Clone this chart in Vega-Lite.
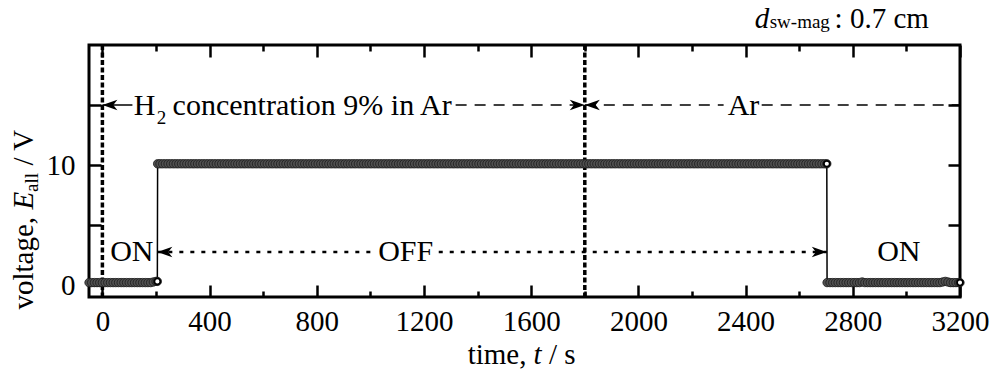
{
  "$schema": "https://vega.github.io/schema/vega-lite/v6.json",
  "autosize": {"type": "none"},
  "width": 871,
  "height": 252,
  "padding": {"left": 89, "top": 45, "right": 33, "bottom": 79},
  "background": "white",
  "view": {"stroke": "black", "strokeWidth": 3},
  "config": {
    "view": {"stroke": "black", "strokeWidth": 3},
    "axis": {"labelFont": "Liberation Serif", "labelFontSize": 29, "labelColor": "black", "domain": false, "grid": false, "tickColor": "black", "tickWidth": 2.5, "title": null, "labelOverlap": false, "labelFlush": false},
    "text": {"font": "Liberation Serif", "color": "black"}
  },
  "datasets": {
    "pts": [
      {"t":-50,"v":0.2},{"t":-40,"v":0.2},{"t":-30,"v":0.2},{"t":-20,"v":0.2},{"t":-10,"v":0.2},{"t":0,"v":0.2},{"t":10,"v":0.2},{"t":20,"v":0.2},{"t":30,"v":0.2},{"t":40,"v":0.2},{"t":50,"v":0.2},{"t":60,"v":0.2},{"t":70,"v":0.2},{"t":80,"v":0.2},{"t":90,"v":0.2},{"t":100,"v":0.2},{"t":110,"v":0.2},{"t":120,"v":0.2},{"t":130,"v":0.2},{"t":140,"v":0.2},{"t":150,"v":0.2},{"t":160,"v":0.2},{"t":170,"v":0.2},{"t":180,"v":0.2},{"t":190,"v":0.25},{"t":200,"v":0.3},{"t":205,"v":0.3},
      {"t":206,"v":10.1},{"t":215,"v":10.1},{"t":225,"v":10.1},{"t":235,"v":10.1},{"t":245,"v":10.1},{"t":255,"v":10.1},{"t":265,"v":10.1},{"t":275,"v":10.1},{"t":285,"v":10.1},{"t":295,"v":10.1},
      {"t":305,"v":10.1},{"t":315,"v":10.1},{"t":325,"v":10.1},{"t":335,"v":10.1},{"t":345,"v":10.1},{"t":355,"v":10.1},{"t":365,"v":10.1},{"t":375,"v":10.1},{"t":385,"v":10.1},{"t":395,"v":10.1},
      {"t":405,"v":10.1},{"t":415,"v":10.1},{"t":425,"v":10.1},{"t":435,"v":10.1},{"t":445,"v":10.1},{"t":455,"v":10.1},{"t":465,"v":10.1},{"t":475,"v":10.1},{"t":485,"v":10.1},{"t":495,"v":10.1},
      {"t":505,"v":10.1},{"t":515,"v":10.1},{"t":525,"v":10.1},{"t":535,"v":10.1},{"t":545,"v":10.1},{"t":555,"v":10.1},{"t":565,"v":10.1},{"t":575,"v":10.1},{"t":585,"v":10.1},{"t":595,"v":10.1},
      {"t":605,"v":10.1},{"t":615,"v":10.1},{"t":625,"v":10.1},{"t":635,"v":10.1},{"t":645,"v":10.1},{"t":655,"v":10.1},{"t":665,"v":10.1},{"t":675,"v":10.1},{"t":685,"v":10.1},{"t":695,"v":10.1},
      {"t":705,"v":10.1},{"t":715,"v":10.1},{"t":725,"v":10.1},{"t":735,"v":10.1},{"t":745,"v":10.1},{"t":755,"v":10.1},{"t":765,"v":10.1},{"t":775,"v":10.1},{"t":785,"v":10.1},{"t":795,"v":10.1},
      {"t":805,"v":10.1},{"t":815,"v":10.1},{"t":825,"v":10.1},{"t":835,"v":10.1},{"t":845,"v":10.1},{"t":855,"v":10.1},{"t":865,"v":10.1},{"t":875,"v":10.1},{"t":885,"v":10.1},{"t":895,"v":10.1},
      {"t":905,"v":10.1},{"t":915,"v":10.1},{"t":925,"v":10.1},{"t":935,"v":10.1},{"t":945,"v":10.1},{"t":955,"v":10.1},{"t":965,"v":10.1},{"t":975,"v":10.1},{"t":985,"v":10.1},{"t":995,"v":10.1},
      {"t":1005,"v":10.1},{"t":1015,"v":10.1},{"t":1025,"v":10.1},{"t":1035,"v":10.1},{"t":1045,"v":10.1},{"t":1055,"v":10.1},{"t":1065,"v":10.1},{"t":1075,"v":10.1},{"t":1085,"v":10.1},{"t":1095,"v":10.1},
      {"t":1105,"v":10.1},{"t":1115,"v":10.1},{"t":1125,"v":10.1},{"t":1135,"v":10.1},{"t":1145,"v":10.1},{"t":1155,"v":10.1},{"t":1165,"v":10.1},{"t":1175,"v":10.1},{"t":1185,"v":10.1},{"t":1195,"v":10.1},
      {"t":1205,"v":10.1},{"t":1215,"v":10.1},{"t":1225,"v":10.1},{"t":1235,"v":10.1},{"t":1245,"v":10.1},{"t":1255,"v":10.1},{"t":1265,"v":10.1},{"t":1275,"v":10.1},{"t":1285,"v":10.1},{"t":1295,"v":10.1},
      {"t":1305,"v":10.1},{"t":1315,"v":10.1},{"t":1325,"v":10.1},{"t":1335,"v":10.1},{"t":1345,"v":10.1},{"t":1355,"v":10.1},{"t":1365,"v":10.1},{"t":1375,"v":10.1},{"t":1385,"v":10.1},{"t":1395,"v":10.1},
      {"t":1405,"v":10.1},{"t":1415,"v":10.1},{"t":1425,"v":10.1},{"t":1435,"v":10.1},{"t":1445,"v":10.1},{"t":1455,"v":10.1},{"t":1465,"v":10.1},{"t":1475,"v":10.1},{"t":1485,"v":10.1},{"t":1495,"v":10.1},
      {"t":1505,"v":10.1},{"t":1515,"v":10.1},{"t":1525,"v":10.1},{"t":1535,"v":10.1},{"t":1545,"v":10.1},{"t":1555,"v":10.1},{"t":1565,"v":10.1},{"t":1575,"v":10.1},{"t":1585,"v":10.1},{"t":1595,"v":10.1},
      {"t":1605,"v":10.1},{"t":1615,"v":10.1},{"t":1625,"v":10.1},{"t":1635,"v":10.1},{"t":1645,"v":10.1},{"t":1655,"v":10.1},{"t":1665,"v":10.1},{"t":1675,"v":10.1},{"t":1685,"v":10.1},{"t":1695,"v":10.1},
      {"t":1705,"v":10.1},{"t":1715,"v":10.1},{"t":1725,"v":10.1},{"t":1735,"v":10.1},{"t":1745,"v":10.1},{"t":1755,"v":10.1},{"t":1765,"v":10.1},{"t":1775,"v":10.1},{"t":1785,"v":10.1},{"t":1795,"v":10.1},
      {"t":1805,"v":10.1},{"t":1815,"v":10.1},{"t":1825,"v":10.1},{"t":1835,"v":10.1},{"t":1845,"v":10.1},{"t":1855,"v":10.1},{"t":1865,"v":10.1},{"t":1875,"v":10.1},{"t":1885,"v":10.1},{"t":1895,"v":10.1},
      {"t":1905,"v":10.1},{"t":1915,"v":10.1},{"t":1925,"v":10.1},{"t":1935,"v":10.1},{"t":1945,"v":10.1},{"t":1955,"v":10.1},{"t":1965,"v":10.1},{"t":1975,"v":10.1},{"t":1985,"v":10.1},{"t":1995,"v":10.1},
      {"t":2005,"v":10.1},{"t":2015,"v":10.1},{"t":2025,"v":10.1},{"t":2035,"v":10.1},{"t":2045,"v":10.1},{"t":2055,"v":10.1},{"t":2065,"v":10.1},{"t":2075,"v":10.1},{"t":2085,"v":10.1},{"t":2095,"v":10.1},
      {"t":2105,"v":10.1},{"t":2115,"v":10.1},{"t":2125,"v":10.1},{"t":2135,"v":10.1},{"t":2145,"v":10.1},{"t":2155,"v":10.1},{"t":2165,"v":10.1},{"t":2175,"v":10.1},{"t":2185,"v":10.1},{"t":2195,"v":10.1},
      {"t":2205,"v":10.1},{"t":2215,"v":10.1},{"t":2225,"v":10.1},{"t":2235,"v":10.1},{"t":2245,"v":10.1},{"t":2255,"v":10.1},{"t":2265,"v":10.1},{"t":2275,"v":10.1},{"t":2285,"v":10.1},{"t":2295,"v":10.1},
      {"t":2305,"v":10.1},{"t":2315,"v":10.1},{"t":2325,"v":10.1},{"t":2335,"v":10.1},{"t":2345,"v":10.1},{"t":2355,"v":10.1},{"t":2365,"v":10.1},{"t":2375,"v":10.1},{"t":2385,"v":10.1},{"t":2395,"v":10.1},
      {"t":2405,"v":10.1},{"t":2415,"v":10.1},{"t":2425,"v":10.1},{"t":2435,"v":10.1},{"t":2445,"v":10.1},{"t":2455,"v":10.1},{"t":2465,"v":10.1},{"t":2475,"v":10.1},{"t":2485,"v":10.1},{"t":2495,"v":10.1},
      {"t":2505,"v":10.1},{"t":2515,"v":10.1},{"t":2525,"v":10.1},{"t":2535,"v":10.1},{"t":2545,"v":10.1},{"t":2555,"v":10.1},{"t":2565,"v":10.1},{"t":2575,"v":10.1},{"t":2585,"v":10.1},{"t":2595,"v":10.1},
      {"t":2605,"v":10.1},{"t":2615,"v":10.1},{"t":2625,"v":10.1},{"t":2635,"v":10.1},{"t":2645,"v":10.1},{"t":2655,"v":10.1},{"t":2665,"v":10.1},{"t":2675,"v":10.1},{"t":2685,"v":10.1},{"t":2695,"v":10.1},{"t":2703,"v":10.1},
      {"t":2704,"v":0.2},{"t":2715,"v":0.2},{"t":2725,"v":0.2},{"t":2735,"v":0.2},{"t":2745,"v":0.2},{"t":2755,"v":0.2},{"t":2765,"v":0.2},{"t":2775,"v":0.2},{"t":2785,"v":0.2},{"t":2795,"v":0.2},
      {"t":2805,"v":0.2},{"t":2815,"v":0.2},{"t":2825,"v":0.2},{"t":2835,"v":0.25},{"t":2845,"v":0.2},{"t":2855,"v":0.2},{"t":2865,"v":0.2},{"t":2875,"v":0.2},{"t":2885,"v":0.2},{"t":2895,"v":0.2},
      {"t":2905,"v":0.2},{"t":2915,"v":0.2},{"t":2925,"v":0.2},{"t":2935,"v":0.2},{"t":2945,"v":0.2},{"t":2955,"v":0.2},{"t":2965,"v":0.2},{"t":2975,"v":0.2},{"t":2985,"v":0.2},{"t":2995,"v":0.2},
      {"t":3005,"v":0.2},{"t":3015,"v":0.2},{"t":3025,"v":0.2},{"t":3035,"v":0.2},{"t":3045,"v":0.2},{"t":3055,"v":0.2},{"t":3065,"v":0.2},{"t":3075,"v":0.2},{"t":3085,"v":0.2},{"t":3095,"v":0.2},
      {"t":3105,"v":0.2},{"t":3115,"v":0.2},{"t":3125,"v":0.2},{"t":3135,"v":0.25},{"t":3145,"v":0.3},{"t":3155,"v":0.25},{"t":3165,"v":0.2},{"t":3175,"v":0.2},{"t":3185,"v":0.2},{"t":3195,"v":0.2},{"t":3200,"v":0.2}
    ],
    "ends": [{"t":205,"v":0.3},{"t":2703,"v":10.1},{"t":3200,"v":0.2}],
    "vlines": [{"t":0},{"t":1800}],
    "segs": [
      {"a":0,"b":112,"v":15,"k":"stem"},
      {"a":1318,"b":1800,"v":15,"k":"dash"},
      {"a":1800,"b":2318,"v":15,"k":"dash"},
      {"a":2460,"b":3200,"v":15,"k":"dash"},
      {"a":205,"b":1009,"v":2.75,"k":"dot"},
      {"a":1255,"b":2703,"v":2.75,"k":"dot"}
    ],
    "arrows": [
      {"t":0,"v":15,"d":"L"},{"t":1800,"v":15,"d":"L"},{"t":205,"v":2.75,"d":"L"},
      {"t":1800,"v":15,"d":"R"},{"t":2703,"v":2.75,"d":"R"}
    ],
    "txt": [
      {"t":117,"v":14.2,"s":"H","k":"ann"},
      {"t":262,"v":14.2,"s":"concentration 9% in Ar","k":"ann"},
      {"t":2333,"v":14.2,"s":"Ar","k":"ann"},
      {"t":29,"v":1.96,"s":"ON","k":"ann"},
      {"t":1029,"v":1.96,"s":"OFF","k":"ann"},
      {"t":2891,"v":1.96,"s":"ON","k":"ann"},
      {"t":2732,"v":21.45,"s":": 0.7 cm","k":"reg"},
      {"t":1363,"v":-6.6,"s":"time,","k":"reg"},
      {"t":1666,"v":-6.6,"s":"/ s","k":"reg"},
      {"t":203,"v":13.4,"s":"2","k":"small"},
      {"t":2490,"v":21.4,"s":"sw-mag","k":"small"},
      {"t":2434,"v":21.45,"s":"d","k":"ital"},
      {"t":1609,"v":-6.6,"s":"t","k":"ital"},
      {"t":-258,"v":-2.05,"s":"voltage,","k":"rreg"},
      {"t":-258,"v":9.95,"s":"/ V","k":"rreg"},
      {"t":-258,"v":6.3,"s":"E","k":"rital"},
      {"t":-239,"v":7.75,"s":"all","k":"rsmall"}
    ]
  },
  "resolve": {"axis": {"x": "independent", "y": "independent"}},
  "layer": [
    {
      "data": {"name": "vlines"},
      "mark": {"type": "rule", "color": "black", "strokeWidth": 3.5, "strokeDash": [5, 2.5]},
      "encoding": {"x": {"field": "t", "type": "quantitative", "scale": {"domain": [-50, 3200], "nice": false, "zero": false}, "axis": null}}
    },
    {
      "data": {"name": "segs"},
      "transform": [{"filter": "datum.k === 'dash'"}],
      "mark": {"type": "rule", "color": "black", "strokeWidth": 1.5, "strokeDash": [11, 8]},
      "encoding": {
        "x": {"field": "a", "type": "quantitative", "axis": null},
        "x2": {"field": "b"},
        "y": {"field": "v", "type": "quantitative", "axis": null}
      }
    },
    {
      "data": {"name": "segs"},
      "transform": [{"filter": "datum.k === 'dot'"}],
      "mark": {"type": "rule", "color": "black", "strokeWidth": 2.5, "strokeDash": [4, 7]},
      "encoding": {
        "x": {"field": "a", "type": "quantitative", "axis": null},
        "x2": {"field": "b"},
        "y": {"field": "v", "type": "quantitative", "axis": null}
      }
    },
    {
      "data": {"name": "segs"},
      "transform": [{"filter": "datum.k === 'stem'"}],
      "mark": {"type": "rule", "color": "black", "strokeWidth": 1.5},
      "encoding": {
        "x": {"field": "a", "type": "quantitative", "axis": null},
        "x2": {"field": "b"},
        "y": {"field": "v", "type": "quantitative", "axis": null}
      }
    },
    {
      "data": {"name": "pts"},
      "mark": {"type": "line", "color": "black", "strokeWidth": 1.5},
      "encoding": {
        "x": {"field": "t", "type": "quantitative", "axis": null},
        "y": {"field": "v", "type": "quantitative", "axis": null}
      }
    },
    {
      "data": {"name": "pts"},
      "mark": {"type": "point", "shape": "circle", "filled": true, "fill": "#505050", "stroke": "#1a1a1a", "strokeWidth": 0.8, "size": 70, "opacity": 1},
      "encoding": {
        "x": {"field": "t", "type": "quantitative",
          "axis": {"orient": "bottom", "values": [0,200,400,600,800,1000,1200,1400,1600,1800,2000,2200,2400,2600,2800,3000,3200], "format": "d",
            "labelExpr": "datum.value % 400 === 0 ? datum.label : ''",
            "tickWidth": 2.5, "tickColor": "black",
            "tickSize": {"condition": {"test": "datum.value % 400 === 0", "value": -12}, "value": -6},
            "labelPadding": 22}},
        "y": {"field": "v", "type": "quantitative", "scale": {"domain": [-1, 20], "nice": false, "zero": false},
          "axis": {"orient": "left", "values": [0,5,10,15], "format": "d",
            "labelExpr": "datum.value % 10 === 0 ? datum.label : ''",
            "tickWidth": 2.5, "tickColor": "black",
            "tickSize": -12, "labelPadding": 26}}
      }
    },
    {
      "data": {"name": "ends"},
      "mark": {"type": "point", "shape": "circle", "filled": true, "fill": "white", "stroke": "black", "strokeWidth": 1.8, "size": 35, "opacity": 1},
      "encoding": {
        "x": {"field": "t", "type": "quantitative", "axis": null},
        "y": {"field": "v", "type": "quantitative", "axis": null}
      }
    },
    {
      "data": {"name": "arrows"},
      "transform": [{"filter": "datum.d === 'L'"}],
      "mark": {"type": "point", "shape": "M0,0L2,-0.7L1.45,0L2,0.7Z", "filled": true, "color": "black", "strokeWidth": 0, "size": 225, "opacity": 1},
      "encoding": {
        "x": {"field": "t", "type": "quantitative",
          "axis": {"orient": "top", "values": [0,200,400,600,800,1000,1200,1400,1600,1800,2000,2200,2400,2600,2800,3000,3200], "labels": false,
            "tickWidth": 2.5, "tickColor": "black",
            "tickSize": {"condition": {"test": "datum.value % 400 === 0", "value": -12}, "value": -6}}},
        "y": {"field": "v", "type": "quantitative",
          "axis": {"orient": "right", "values": [0,5,10,15], "labels": false, "tickWidth": 2.5, "tickColor": "black", "tickSize": -12}}
      }
    },
    {
      "data": {"name": "arrows"},
      "transform": [{"filter": "datum.d === 'R'"}],
      "mark": {"type": "point", "shape": "M0,0L-2,-0.7L-1.45,0L-2,0.7Z", "filled": true, "color": "black", "strokeWidth": 0, "size": 225, "opacity": 1},
      "encoding": {
        "x": {"field": "t", "type": "quantitative", "axis": null},
        "y": {"field": "v", "type": "quantitative", "axis": null}
      }
    },
    {
      "data": {"name": "txt"},
      "transform": [{"filter": "datum.k === 'ann'"}],
      "mark": {"type": "text", "fontSize": 30, "align": "left", "baseline": "alphabetic"},
      "encoding": {
        "x": {"field": "t", "type": "quantitative", "axis": null},
        "y": {"field": "v", "type": "quantitative", "axis": null},
        "text": {"field": "s"}
      }
    },
    {
      "data": {"name": "txt"},
      "transform": [{"filter": "datum.k === 'reg'"}],
      "mark": {"type": "text", "fontSize": 29, "align": "left", "baseline": "alphabetic"},
      "encoding": {
        "x": {"field": "t", "type": "quantitative", "axis": null},
        "y": {"field": "v", "type": "quantitative", "axis": null},
        "text": {"field": "s"}
      }
    },
    {
      "data": {"name": "txt"},
      "transform": [{"filter": "datum.k === 'small'"}],
      "mark": {"type": "text", "fontSize": 19, "align": "left", "baseline": "alphabetic"},
      "encoding": {
        "x": {"field": "t", "type": "quantitative", "axis": null},
        "y": {"field": "v", "type": "quantitative", "axis": null},
        "text": {"field": "s"}
      }
    },
    {
      "data": {"name": "txt"},
      "transform": [{"filter": "datum.k === 'ital'"}],
      "mark": {"type": "text", "fontSize": 29, "fontStyle": "italic", "align": "left", "baseline": "alphabetic"},
      "encoding": {
        "x": {"field": "t", "type": "quantitative", "axis": null},
        "y": {"field": "v", "type": "quantitative", "axis": null},
        "text": {"field": "s"}
      }
    },
    {
      "data": {"name": "txt"},
      "transform": [{"filter": "datum.k === 'rreg'"}],
      "mark": {"type": "text", "fontSize": 29, "angle": 270, "align": "left", "baseline": "alphabetic"},
      "encoding": {
        "x": {"field": "t", "type": "quantitative", "axis": null},
        "y": {"field": "v", "type": "quantitative", "axis": null},
        "text": {"field": "s"}
      }
    },
    {
      "data": {"name": "txt"},
      "transform": [{"filter": "datum.k === 'rital'"}],
      "mark": {"type": "text", "fontSize": 29, "fontStyle": "italic", "angle": 270, "align": "left", "baseline": "alphabetic"},
      "encoding": {
        "x": {"field": "t", "type": "quantitative", "axis": null},
        "y": {"field": "v", "type": "quantitative", "axis": null},
        "text": {"field": "s"}
      }
    },
    {
      "data": {"name": "txt"},
      "transform": [{"filter": "datum.k === 'rsmall'"}],
      "mark": {"type": "text", "fontSize": 19, "angle": 270, "align": "left", "baseline": "alphabetic"},
      "encoding": {
        "x": {"field": "t", "type": "quantitative", "axis": null},
        "y": {"field": "v", "type": "quantitative", "axis": null},
        "text": {"field": "s"}
      }
    }
  ]
}
